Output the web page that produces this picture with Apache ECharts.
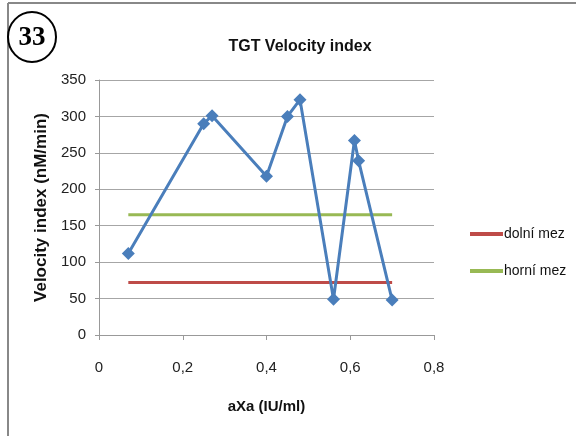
<!DOCTYPE html>
<html>
<head>
<meta charset="utf-8">
<script src="https://cdn.jsdelivr.net/npm/echarts@6/dist/echarts.min.js"></script>
<style>
  html, body { margin: 0; padding: 0; background: #fff; }
  #chart { width: 576px; height: 436px; }
</style>
</head>
<body>
<div id="chart"></div>
<script>
// aXa concentration (IU/ml) and measured velocity index (nM/min)
const axaValues = [0.07, 0.25, 0.27, 0.40, 0.45, 0.48, 0.56, 0.61, 0.62, 0.70];
const velocityValues = [112, 290, 301, 218, 300, 323, 49, 267, 239, 48];

// reference limits drawn across the measured range
const limitRange = [0.07, 0.70];
const lowerLimit = 72;   // dolní mez
const upperLimit = 165;  // horní mez

const seriesNames = ['Velocity index', 'dolní mez', 'horní mez'];
const xTicks = { min: 0, max: 0.8, step: 0.2 };
const yTicks = { min: 0, max: 350, step: 50 };

const font = "'Liberation Sans', sans-serif";

const chart = echarts.init(document.getElementById('chart'));

chart.setOption({
  animation: false,
  backgroundColor: '#fff',
  title: {
    text: 'TGT Velocity index',
    left: 295,
    top: 34,
    textAlign: 'center',
    textStyle: { fontFamily: font, fontSize: 16, fontWeight: 'bold', color: '#111' }
  },
  legend: {
    data: ['dolní mez', 'horní mez'],
    orient: 'vertical',
    left: 465,
    top: 222,
    itemWidth: 33,
    itemHeight: 4,
    itemGap: 23,
    icon: 'rect',
    textStyle: { fontFamily: font, fontSize: 14, color: '#111', padding: [0, 0, 0, -4] }
  },
  grid: { left: 99, right: 142, top: 80, bottom: 101 },
  xAxis: {
    type: 'value',
    min: xTicks.min,
    max: xTicks.max,
    interval: xTicks.step,
    name: 'aXa (IU/ml)',
    nameLocation: 'middle',
    nameGap: 64,
    nameTextStyle: { fontFamily: font, fontSize: 15, fontWeight: 'bold', color: '#111' },
    axisLine: { lineStyle: { color: '#999', width: 1 } },
    axisTick: { show: true, length: 5, lineStyle: { color: '#999' } },
    axisLabel: {
      margin: 25,
      fontFamily: font,
      fontSize: 15,
      color: '#222',
      formatter: v => String(v).replace('.', ',')
    },
    splitLine: { show: false }
  },
  yAxis: {
    type: 'value',
    min: yTicks.min,
    max: yTicks.max,
    interval: yTicks.step,
    name: 'Velocity index (nM/min)',
    nameLocation: 'middle',
    nameGap: 47,
    nameTextStyle: { fontFamily: font, fontSize: 17, fontWeight: 'bold', color: '#111' },
    axisLine: { show: true, lineStyle: { color: '#999', width: 1 } },
    axisTick: { show: true, length: 4, lineStyle: { color: '#999' } },
    axisLabel: { margin: 13, fontFamily: font, fontSize: 15, color: '#222' },
    splitLine: { show: true, lineStyle: { color: '#a6a6a6', width: 1 } }
  },
  series: [
    {
      name: seriesNames[0],
      type: 'line',
      data: axaValues.map((x, i) => [x, velocityValues[i]]),
      symbol: 'diamond',
      symbolSize: 13,
      lineStyle: { color: '#4a7ebb', width: 3 },
      itemStyle: { color: '#4a7ebb' },
      z: 3
    },
    {
      name: seriesNames[1],
      type: 'line',
      data: limitRange.map(x => [x, lowerLimit]),
      symbol: 'none',
      lineStyle: { color: '#be4b48', width: 3 },
      itemStyle: { color: '#be4b48' },
      z: 2
    },
    {
      name: seriesNames[2],
      type: 'line',
      data: limitRange.map(x => [x, upperLimit]),
      symbol: 'none',
      lineStyle: { color: '#98b954', width: 3 },
      itemStyle: { color: '#98b954' },
      z: 2
    }
  ],
  graphic: [
    // frame lines along top and left
    { type: 'line', shape: { x1: 8, y1: 3, x2: 576, y2: 3 }, style: { stroke: '#888', lineWidth: 2 } },
    { type: 'line', shape: { x1: 8, y1: 3, x2: 8, y2: 436 }, style: { stroke: '#888', lineWidth: 2 } },
    // panel number badge
    {
      type: 'ellipse',
      shape: { cx: 32, cy: 37, rx: 24, ry: 25 },
      style: { fill: '#fff', stroke: '#000', lineWidth: 2 },
      z: 10
    },
    {
      type: 'text',
      x: 32,
      y: 38,
      style: {
        text: '33',
        fontFamily: "'Liberation Serif', 'DejaVu Serif', serif",
        fontWeight: 'bold',
        fontSize: 27,
        fill: '#000',
        align: 'center',
        verticalAlign: 'middle'
      },
      z: 11
    }
  ]
});
</script>
</body>
</html>
